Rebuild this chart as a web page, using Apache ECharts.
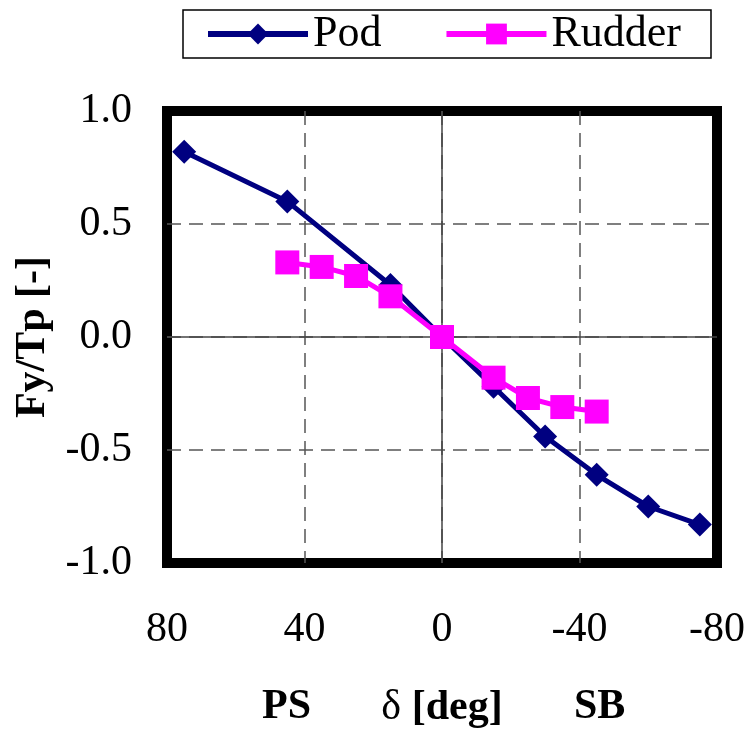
<!DOCTYPE html>
<html>
<head>
<meta charset="utf-8">
<script src="https://cdn.jsdelivr.net/npm/echarts@6/dist/echarts.min.js"></script>
<style>
	html, body { margin: 0; padding: 0; background: #fff; }
	#chart { width: 748px; height: 738px; }
</style>
</head>
<body>
<div id="chart"></div>
<script>
// steering angle [deg] and side force ratio Fy/Tp
const podAngle = [75, 45, 15, 0, -15, -30, -45, -60, -75];
const podForce = [0.82, 0.60, 0.23, 0, -0.22, -0.44, -0.61, -0.75, -0.83];
const rudderAngle = [45, 35, 25, 15, 0, -15, -25, -35, -45];
const rudderForce = [0.33, 0.31, 0.27, 0.18, 0, -0.18, -0.27, -0.31, -0.33];

const serif = '"Liberation Serif", "DejaVu Serif", serif';

let chart = echarts.init(document.getElementById('chart'));

let pairs = function(xs, ys) {
	return xs.map((x, i) => [x, ys[i]]);
};

let gridDash = { color: '#555', width: 1.5, type: [14, 8] };

let option = {
	animation: false,
	legend: {
		left: 183,
		top: 10,
		padding: [2, 30, 2, 22],
		itemWidth: 100,
		itemHeight: 26,
		itemGap: 62,
		borderColor: '#000',
		borderWidth: 1.5,
		lineStyle: { width: 6 },
		textStyle: {
			fontFamily: serif,
			fontSize: 44,
			color: '#000'
		},
		data: ['Pod', 'Rudder']
	},
	grid: {
		left: 167,
		right: 31,
		top: 111,
		bottom: 175,
		show: true,
		borderColor: '#000',
		borderWidth: 10,
		backgroundColor: '#fff'
	},
	xAxis: {
		type: 'value',
		min: -80,
		max: 80,
		interval: 40,
		inverse: true,
		axisLine: { show: false },
		axisTick: { show: false },
		axisLabel: {
			margin: 46,
			fontFamily: serif,
			fontSize: 42,
			color: '#000'
		},
		splitLine: { showMinLine: false, showMaxLine: false, lineStyle: gridDash },
		name: '{d|δ }{b|[deg]}',
		nameLocation: 'middle',
		nameGap: 124,
		nameTextStyle: {
			rich: {
				d: { fontFamily: serif, fontSize: 42, color: '#000' },
				b: { fontFamily: serif, fontSize: 42, fontWeight: 'bold', color: '#000' }
			}
		}
	},
	yAxis: {
		type: 'value',
		min: -1,
		max: 1,
		interval: 0.5,
		axisLine: { show: false },
		axisTick: { show: false },
		axisLabel: {
			margin: 35,
			fontFamily: serif,
			fontSize: 42,
			color: '#000',
			formatter: v => v.toFixed(1)
		},
		splitLine: { showMinLine: false, showMaxLine: false, lineStyle: gridDash },
		name: 'Fy/Tp [-]',
		nameLocation: 'middle',
		nameGap: 112,
		nameTextStyle: {
			fontFamily: serif,
			fontSize: 42,
			fontWeight: 'bold',
			color: '#000'
		}
	},
	graphic: [
		{
			type: 'text', left: 262, top: 686,
			style: { text: 'PS', font: 'bold 42px ' + serif, fill: '#000' }
		},
		{
			type: 'text', left: 574, top: 686,
			style: { text: 'SB', font: 'bold 42px ' + serif, fill: '#000' }
		}
	],
	series: [
		{
			name: 'Pod',
			type: 'line',
			data: pairs(podAngle, podForce),
			symbol: 'diamond',
			symbolSize: 24,
			itemStyle: { color: '#000080' },
			lineStyle: { color: '#000080', width: 5 },
			z: 3,
			markLine: {
				silent: true,
				symbol: 'none',
				label: { show: false },
				lineStyle: { color: '#444', width: 1.5, type: 'solid' },
				data: [{ xAxis: 0 }, { yAxis: 0 }],
				z: 1
			}
		},
		{
			name: 'Rudder',
			type: 'line',
			data: pairs(rudderAngle, rudderForce),
			symbol: 'rect',
			symbolSize: 24,
			itemStyle: { color: '#ff00ff' },
			lineStyle: { color: '#ff00ff', width: 5 },
			z: 4
		}
	]
};

chart.setOption(option);
</script>
</body>
</html>
